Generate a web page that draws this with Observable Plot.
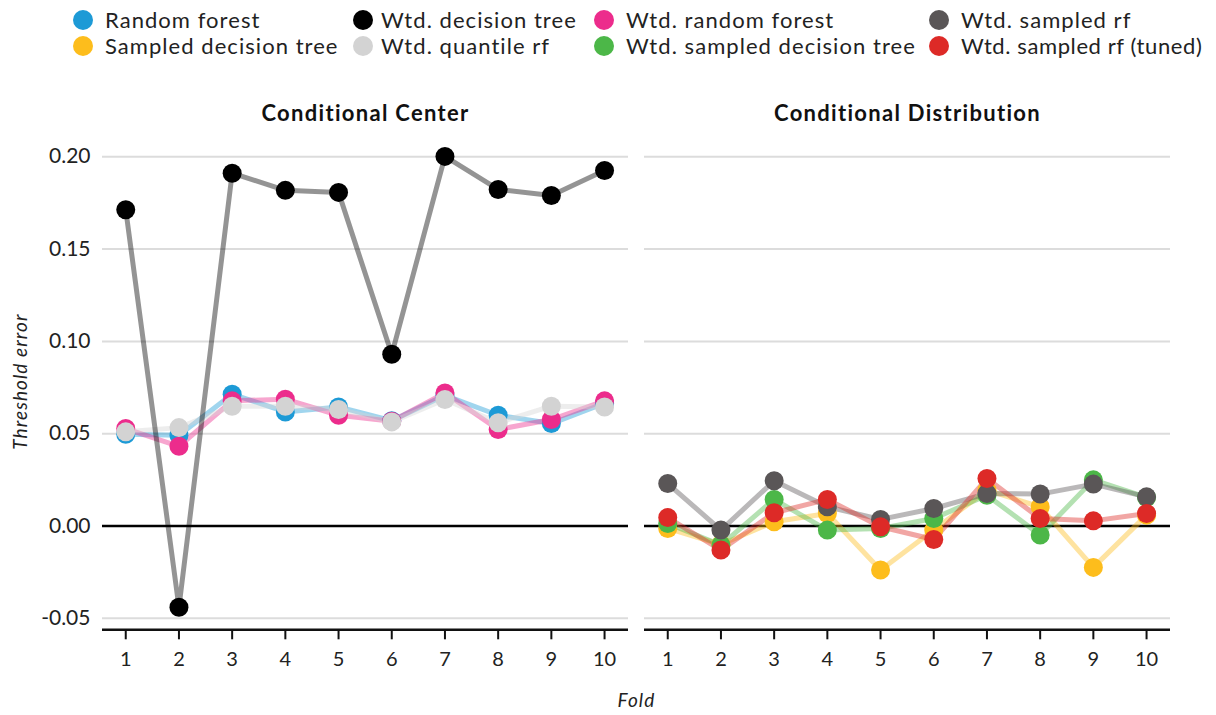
<!DOCTYPE html>
<html>
<head>
<meta charset="utf-8">
<script src="https://cdn.jsdelivr.net/npm/d3@7"></script>
<script src="https://cdn.jsdelivr.net/npm/@observablehq/plot@0.6"></script>
<style>
  html, body { margin: 0; padding: 0; background: #fff; }
  body { font-family: Lato, "Open Sans", sans-serif; color: #222; width: 1216px; overflow: hidden; }
  #legend { position: relative; height: 62px; width: 1216px; }
  #legend .sw { position: absolute; width: 20px; height: 20px; border-radius: 50%; }
  #legend .lab { position: absolute; white-space: nowrap; font-size: 22px; letter-spacing: 1.05px; line-height: 26px; color: #222; }
  #legend .lab.last { letter-spacing: 0.6px; }
  #chart svg { display: block; }
</style>
</head>
<body>
<div id="legend"></div>
<div id="chart"></div>
<script>
// ---------- data ----------
const folds = [1, 2, 3, 4, 5, 6, 7, 8, 9, 10];
const panels = ["Conditional Center", "Conditional Distribution"];
const yTicks = [-0.05, 0, 0.05, 0.10, 0.15, 0.20];

// legend order (column-major, 2 rows)
const seriesNames = [
  "Random forest", "Sampled decision tree",
  "Wtd. decision tree", "Wtd. quantile rf",
  "Wtd. random forest", "Wtd. sampled decision tree",
  "Wtd. sampled rf", "Wtd. sampled rf (tuned)"
];
const seriesColors = [
  "#1d9ad6", "#fdbd1c",
  "#000000", "#d3d3d3",
  "#ec2c8c", "#4cb748",
  "#5a5657", "#dd2a27"
];

// Conditional Center
const randomForest     = [0.0497, 0.0492, 0.0714, 0.0618, 0.0645, 0.0570, 0.0708, 0.0600, 0.0555, 0.0665];
const wtdRandomForest  = [0.0528, 0.0432, 0.0678, 0.0687, 0.0600, 0.0568, 0.0721, 0.0523, 0.0577, 0.0678];
const wtdQuantileRf    = [0.0510, 0.0533, 0.0649, 0.0649, 0.0631, 0.0564, 0.0685, 0.0559, 0.0649, 0.0645];
const wtdDecisionTree  = [0.1713, -0.0440, 0.1911, 0.1818, 0.1807, 0.0930, 0.2002, 0.1823, 0.1790, 0.1926];

// Conditional Distribution
const sampledDecisionTree    = [-0.0013, -0.0100, 0.0023, 0.0068, -0.0238, -0.0022, 0.0194, 0.0104, -0.0224, 0.0059];
const wtdSampledDecisionTree = [0.0014, -0.0103, 0.0144, -0.0022, -0.0013, 0.0041, 0.0167, -0.0049, 0.0250, 0.0155];
const wtdSampledRf           = [0.0230, -0.0022, 0.0245, 0.0104, 0.0036, 0.0095, 0.0176, 0.0173, 0.0227, 0.0158];
const wtdSampledRfTuned      = [0.0046, -0.0130, 0.0072, 0.0144, -0.0004, -0.0073, 0.0257, 0.0041, 0.0028, 0.0068];

// draw order (later on top)
const series = [
  {panel: panels[0], name: "Random forest", values: randomForest},
  {panel: panels[0], name: "Wtd. random forest", values: wtdRandomForest},
  {panel: panels[0], name: "Wtd. quantile rf", values: wtdQuantileRf},
  {panel: panels[0], name: "Wtd. decision tree", values: wtdDecisionTree},
  {panel: panels[1], name: "Sampled decision tree", values: sampledDecisionTree},
  {panel: panels[1], name: "Wtd. sampled decision tree", values: wtdSampledDecisionTree},
  {panel: panels[1], name: "Wtd. sampled rf", values: wtdSampledRf},
  {panel: panels[1], name: "Wtd. sampled rf (tuned)", values: wtdSampledRfTuned}
];

const rows = [];
for (const s of series) folds.forEach((f, i) => rows.push({panel: s.panel, series: s.name, fold: f, value: s.values[i]}));

// ---------- legend ----------
const colX = [83, 363, 604, 939];
const textX = [105, 381, 626, 961];
const rowY = [19.5, 46];
const legend = document.getElementById("legend");
seriesNames.forEach((name, i) => {
  const c = Math.floor(i / 2), r = i % 2;
  const sw = document.createElement("span");
  sw.className = "sw";
  sw.style.left = (colX[c] - 10) + "px";
  sw.style.top = (rowY[r] - 10) + "px";
  sw.style.background = seriesColors[i];
  legend.appendChild(sw);
  const lab = document.createElement("span");
  lab.className = i === seriesNames.length - 1 ? "lab last" : "lab";
  lab.style.left = textX[c] + "px";
  lab.style.top = (rowY[r] + 1.3 - 14) + "px";
  lab.textContent = name;
  legend.appendChild(lab);
});

// ---------- chart ----------
const yDomain = [-0.0562, 0.2127];
const chart = Plot.plot({
  width: 1216,
  height: 653,
  marginLeft: 101.7,
  marginRight: 45,
  marginTop: 70.8,
  marginBottom: 85.7,
  style: {fontFamily: "Lato, 'Open Sans', sans-serif", fontSize: "21px", color: "#222", background: "#fff", overflow: "visible"},
  fx: {domain: panels, paddingInner: 0.0289, paddingOuter: 0, axis: null},
  x: {domain: [0.563, 10.45]},
  y: {domain: yDomain},
  color: {domain: seriesNames, range: seriesColors},
  marks: [
    Plot.gridY(yTicks, {stroke: "#dcdcdc", strokeOpacity: 1, strokeWidth: 2}),
    Plot.ruleY([0], {stroke: "#000", strokeWidth: 2.5}),
    Plot.ruleY([yDomain[0]], {stroke: "#111", strokeWidth: 2.5}),
    Plot.axisX({ticks: folds, tickFormat: d => String(d), tickSize: 10, tickPadding: 12, strokeWidth: 2, stroke: "#111", fontSize: 20, label: null}),
    Plot.axisX({ticks: [], tickSize: 0, label: "Fold", labelArrow: "none", labelAnchor: "center", labelOffset: 77, fontStyle: "italic", fontSize: 19}),
    Plot.axisY({ticks: yTicks, tickFormat: d => d.toFixed(2), tickSize: 0, tickPadding: 12, fontSize: 21, label: null}),
    Plot.axisY({ticks: [], tickSize: 0, label: "Threshold error", labelArrow: "none", labelAnchor: "center", labelOffset: 89, fontStyle: "italic", fontSize: 19}),
    Plot.text(panels, {fx: d => d, text: d => d, frameAnchor: "top", dy: -27.8, fontWeight: "bold", fontSize: 22, fill: "#111"}),
    Plot.line(rows, {fx: "panel", x: "fold", y: "value", z: "series", stroke: "series", strokeWidth: 5, strokeOpacity: 0.42}),
    Plot.dot(rows, {fx: "panel", x: "fold", y: "value", fill: "series", r: 9.5})
  ]
});
// widen letter spacing of word labels to match the reference typography; strip any arrows
d3.select(chart).selectAll('g[aria-label="text"] text').style("letter-spacing", "1.3px");
d3.select(chart).selectAll('g[aria-label="x-axis label"] text, g[aria-label="y-axis label"] text')
  .style("letter-spacing", "1.1px")
  .each(function () { this.textContent = this.textContent.replace(/\s*[→←↑↓]\s*/g, ""); });
document.getElementById("chart").appendChild(chart);
</script>
</body>
</html>
